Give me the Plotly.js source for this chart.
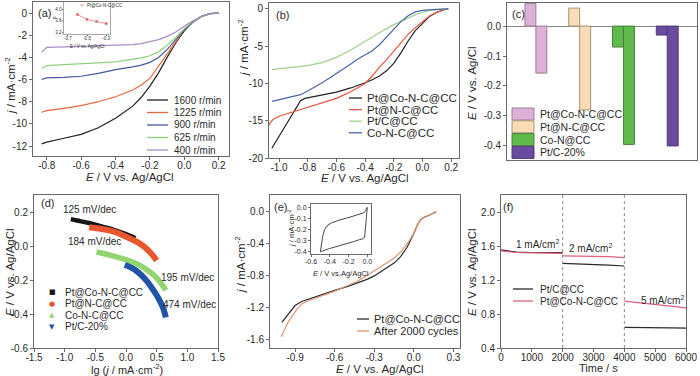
<!DOCTYPE html>
<html><head><meta charset="utf-8">
<script src="https://cdn.plot.ly/plotly-3.0.1.min.js"></script>
<style>html,body{margin:0;padding:0;background:#fff}#chart{width:700px;height:376px}</style>
</head><body><div id="chart"></div>
<script>
// ---------- DATA ----------
// (a) LSV at different rotation rates
const rpmLabels = ["1600 r/min","1225 r/min","900 r/min","625 r/min","400 r/min"];
const E_a = [-0.83,-0.8,-0.7,-0.6,-0.5,-0.4,-0.3,-0.25,-0.2,-0.15,-0.1,-0.05,0,0.05,0.1,0.15,0.2];
const j_1600 = [-11.8,-11.65,-11.3,-10.95,-10.35,-9.5,-8.4,-7.6,-6.6,-5.4,-4.0,-2.7,-1.6,-0.8,-0.3,-0.05,0];
const j_1225 = [-8.95,-8.8,-8.6,-8.35,-8.0,-7.55,-6.95,-6.5,-5.9,-4.8,-3.6,-2.5,-1.5,-0.8,-0.3,-0.05,0];
const j_900  = [-6.0,-5.85,-5.8,-5.7,-5.45,-5.1,-4.85,-4.7,-4.45,-4.0,-3.3,-2.4,-1.5,-0.8,-0.3,-0.05,0];
const j_625  = [-5.0,-4.75,-4.65,-4.6,-4.5,-4.4,-4.2,-4.05,-3.85,-3.5,-2.9,-2.2,-1.4,-0.75,-0.3,-0.05,0];
const j_400  = [-3.55,-3.1,-3.05,-3.0,-2.95,-2.9,-2.85,-2.75,-2.6,-2.4,-2.1,-1.7,-1.2,-0.7,-0.3,-0.05,0];
// (a) inset: electron transfer number
const E_ins = [-0.6,-0.5,-0.4,-0.3];
const n_ins = [3.82,3.65,3.58,3.51];
// (b) LSV of catalysts
const bNames = ["Pt@Co-N-C@CC","Pt@N-C@CC","Pt/C@CC","Co-N-C@CC"];
const E_b1 = [-1.05,-1.0,-0.95,-0.9,-0.87,-0.85,-0.82,-0.78,-0.7,-0.6,-0.5,-0.45,-0.4,-0.35,-0.3,-0.25,-0.2,-0.15,-0.1,-0.05,0,0.05,0.1,0.15,0.18];
const j_b1 = [-18.7,-17.1,-15.5,-13.9,-12.8,-12.3,-12.0,-11.85,-11.6,-11.15,-10.6,-10.3,-9.9,-9.5,-9.0,-8.3,-7.3,-5.9,-4.3,-2.9,-1.9,-1.0,-0.45,-0.1,0];
const E_b2 = [-1.08,-1.06,-1.04,-1.02,-1.0,-0.95,-0.9,-0.8,-0.7,-0.6,-0.5,-0.45,-0.4,-0.35,-0.3,-0.25,-0.2,-0.15,-0.1,-0.05,0,0.05,0.1,0.15,0.18];
const j_b2 = [-16.0,-15.2,-14.8,-14.55,-14.4,-14.1,-13.8,-13.3,-12.7,-12.0,-11.1,-10.6,-10.0,-9.0,-7.8,-6.8,-5.7,-4.5,-3.4,-2.5,-1.7,-0.95,-0.45,-0.1,0];
const E_b3 = [-1.05,-1.0,-0.9,-0.8,-0.7,-0.6,-0.5,-0.4,-0.3,-0.2,-0.1,-0.05,0,0.05,0.1,0.18];
const j_b3 = [-8.15,-8.05,-7.9,-7.6,-7.2,-6.5,-5.5,-4.3,-3.2,-2.1,-1.2,-0.8,-0.45,-0.2,-0.08,0];
const E_b4 = [-1.05,-1.0,-0.95,-0.9,-0.85,-0.8,-0.75,-0.7,-0.65,-0.6,-0.55,-0.5,-0.45,-0.4,-0.35,-0.3,-0.25,-0.2,-0.15,-0.1,-0.05,0,0.05,0.1,0.18];
const j_b4 = [-12.4,-12.2,-12.0,-11.8,-11.5,-11.0,-10.5,-9.9,-9.3,-8.7,-8.0,-7.4,-6.7,-6.2,-5.6,-4.8,-3.8,-2.7,-1.7,-0.9,-0.4,-0.2,-0.1,-0.05,0];
// (c) onset / half-wave potentials
const cNames = ["Pt@Co-N-C@CC","Pt@N-C@CC","Co-N@CC","Pt/C-20%"];
const onsetE = [0.075,0.06,-0.07,-0.03];
const halfE  = [-0.157,-0.28,-0.395,-0.40];
// (d) Tafel
const dNames = ["Pt@Co-N-C@CC","Pt@N-C@CC","Co-N-C@CC","Pt/C-20%"];
const tafelSlopes = ["125 mV/dec","184 mV/dec","195 mV/dec","474 mV/dec"];
const lg_d1 = [-0.9,-0.8,-0.6,-0.4,-0.2,0,0.1,0.15];
const E_d1  = [0.158,0.15,0.135,0.115,0.095,0.07,0.055,0.045];
const lg_d2 = [-0.6,-0.4,-0.2,0,0.2,0.3,0.4,0.5];
const E_d2  = [0.11,0.1,0.085,0.055,0.02,-0.005,-0.04,-0.085];
const lg_d3 = [-0.48,-0.3,-0.15,0,0.15,0.3,0.45,0.55,0.65];
const E_d3  = [-0.035,-0.05,-0.065,-0.08,-0.1,-0.13,-0.17,-0.21,-0.26];
const lg_d4 = [-0.02,0.1,0.2,0.3,0.4,0.5,0.6,0.65];
const E_d4  = [-0.11,-0.13,-0.155,-0.19,-0.235,-0.29,-0.36,-0.42];
// (e) stability
const eNames = ["Pt@Co-N-C@CC","After 2000 cycles"];
const E_e1 = [-1.0,-0.95,-0.9,-0.85,-0.8,-0.7,-0.6,-0.5,-0.43,-0.35,-0.3,-0.2,-0.15,-0.1,-0.05,0,0.025,0.05,0.075,0.12,0.17];
const j_e1 = [-1.38,-1.27,-1.17,-1.12,-1.09,-1.04,-0.98,-0.93,-0.89,-0.84,-0.80,-0.70,-0.64,-0.56,-0.44,-0.27,-0.17,-0.1,-0.07,-0.04,0.0];
const E_e2 = [-1.005,-0.95,-0.9,-0.85,-0.8,-0.7,-0.6,-0.5,-0.43,-0.35,-0.3,-0.2,-0.15,-0.1,-0.05,0,0.025,0.05,0.075,0.12,0.17];
const j_e2 = [-1.56,-1.37,-1.25,-1.15,-1.11,-1.05,-0.99,-0.92,-0.87,-0.79,-0.74,-0.64,-0.58,-0.5,-0.40,-0.27,-0.17,-0.1,-0.07,-0.04,0.0];
// (e) inset CV loop
const E_cv = [-0.5,-0.49,-0.475,-0.455,-0.42,-0.38,-0.3,-0.184,-0.1,-0.045,-0.02,0.0,-0.01,-0.02,-0.028,-0.05,-0.08,-0.15,-0.29,-0.4,-0.5];
const j_cv = [-0.40,-0.33,-0.26,-0.2,-0.16,-0.14,-0.115,-0.088,-0.07,-0.052,-0.035,0.0,-0.1,-0.2,-0.27,-0.285,-0.29,-0.31,-0.34,-0.37,-0.40];
// (f) galvanostatic discharge
const fNames = ["Pt/C@CC","Pt@Co-N-C@CC"];
const currentLabels = ["1 mA/cm<sup>2</sup>","2 mA/cm<sup>2</sup>","5 mA/cm<sup>2</sup>"];
const switchTimes = [2000,4000];
const t_f = [0,500,1000,1500,2000,null,2000,2500,3000,3500,4000,null,4000,4500,5000,5500,6000];
const E_fPtC = [1.56,1.535,1.53,1.53,1.53,null,1.40,1.395,1.39,1.38,1.37,null,0.645,0.64,0.64,0.637,0.635];
const E_fPt  = [1.55,1.53,1.525,1.525,1.52,null,1.49,1.49,1.485,1.48,1.47,null,0.955,0.935,0.915,0.895,0.875];

// ---------- LAYOUT HELPERS ----------
const W=700,H=376;
const FONT="Liberation Sans, Arial, sans-serif";
const TXT="#2a2a2a";
const fx=p=>p/W, fy=p=>1-p/H;
function base(extra){
  return Object.assign({showline:true,mirror:true,linecolor:'#6a6a6a',linewidth:1,ticks:'outside',ticklen:3,
    tickwidth:1,tickcolor:'#6a6a6a',showgrid:false,zeroline:false,fixedrange:true,
    tickfont:{size:10,color:TXT,family:FONT}},extra);
}
function xa(x0,x1,range,tv,tt,anchor,extra){return base(Object.assign({domain:[fx(x0),fx(x1)],range:range,tickvals:tv,ticktext:tt,anchor:anchor,tickmode:'array',ticklabelstandoff:-3},extra||{}));}
function ya(y0,y1,range,tv,tt,anchor,extra){return base(Object.assign({domain:[fy(y1),fy(y0)],range:range,tickvals:tv,ticktext:tt,anchor:anchor,tickmode:'array'},extra||{}));}
const ann=[]; const shapes=[];
function T(x,y,text,o){ann.push(Object.assign({x:fx(x),y:fy(y),xref:'paper',yref:'paper',text:text,showarrow:false,
  xanchor:'center',yanchor:'middle',font:{size:10,color:TXT,family:FONT}},o||{}));}
function F(s){return {size:s,color:TXT,family:FONT};}
function legLine(x0,x1,y,color,w){shapes.push({type:'line',xref:'paper',yref:'paper',x0:fx(x0),x1:fx(x1),y0:fy(y),y1:fy(y),line:{color:color,width:w||1.3}});}
function legRect(x0,x1,y0,y1,color,lc){shapes.push({type:'rect',xref:'paper',yref:'paper',x0:fx(x0),x1:fx(x1),y0:fy(y1),y1:fy(y0),fillcolor:color,line:{color:lc||'#777',width:1}});}
const fmt=(arr,d)=>arr.map(v=>v.toFixed(d));

// ---------- TRACES ----------
const traces=[];
const aCols=['#222222','#e8693e','#3f5a9c','#8fd07c','#a98bc8'];
[j_1600,j_1225,j_900,j_625,j_400].forEach((j,i)=>traces.push({x:E_a,y:j,xaxis:'x',yaxis:'y',mode:'lines',line:{color:aCols[i],width:1.2},name:rpmLabels[i],showlegend:false}));
traces.push({x:E_ins,y:n_ins,xaxis:'x2',yaxis:'y2',mode:'lines+markers',line:{color:'#e06a6a',width:0.7},marker:{symbol:'square',size:2.5,color:'#e06a6a'},showlegend:false});
const bCols=['#222222','#e8553e','#9fd28c','#4a64aa'];
[[E_b1,j_b1],[E_b2,j_b2],[E_b3,j_b3],[E_b4,j_b4]].forEach((d,i)=>traces.push({x:d[0],y:d[1],xaxis:'x3',yaxis:'y3',mode:'lines',line:{color:bCols[i],width:1.2},name:bNames[i],showlegend:false}));
const cCols=['#ddb0d8','#fbdcb6','#5fb94b','#6b4b9f'];
const cLine=['#9a7f98','#a89472','#4b7f3e','#4f3a75'];
cNames.forEach((nm,i)=>traces.push({type:'bar',x:[i+1,i+1],y:[onsetE[i],halfE[i]],offset:[-0.25,0],width:[0.25,0.25],
  xaxis:'x4',yaxis:'y4',marker:{color:cCols[i],line:{color:cLine[i],width:1}},name:nm,showlegend:false}));
const dCols=['#151515','#e8552e','#90d56f','#2054a6'];
const dW=[4.5,6,5.5,6];
[[lg_d1,E_d1],[lg_d2,E_d2],[lg_d3,E_d3],[lg_d4,E_d4]].forEach((d,i)=>traces.push({x:d[0],y:d[1],xaxis:'x5',yaxis:'y5',mode:'lines',line:{color:dCols[i],width:dW[i],shape:'spline'},name:dNames[i],showlegend:false}));
const eCols=['#2a2a2a','#de946f'];
traces.push({x:E_e1,y:j_e1,xaxis:'x6',yaxis:'y6',mode:'lines',line:{color:eCols[0],width:1.2},showlegend:false});
traces.push({x:E_e2,y:j_e2,xaxis:'x6',yaxis:'y6',mode:'lines',line:{color:eCols[1],width:1.2},showlegend:false});
traces.push({x:E_cv,y:j_cv,xaxis:'x7',yaxis:'y7',mode:'lines',line:{color:'#333',width:0.9},showlegend:false});
const fCols=['#2a2a2a','#e0607c'];
traces.push({x:t_f,y:E_fPtC,xaxis:'x8',yaxis:'y8',mode:'lines',line:{color:fCols[0],width:1.2},connectgaps:false,showlegend:false});
traces.push({x:t_f,y:E_fPt,xaxis:'x8',yaxis:'y8',mode:'lines',line:{color:fCols[1],width:1.2},connectgaps:false,showlegend:false});

// ---------- AXES ----------
const tA_x=[-0.8,-0.6,-0.4,-0.2,0,0.2], tA_y=[0,-2,-4,-6,-8,-10,-12];
const tB_x=[-1.0,-0.8,-0.6,-0.4,-0.2,0,0.2], tB_y=[0,-5,-10,-15,-20];
const tC_y=[0,-0.1,-0.2,-0.3,-0.4];
const tD_x=[-1.5,-1,-0.5,0,0.5,1,1.5], tD_y=[0.2,0,-0.2,-0.4,-0.6];
const tE_x=[-0.9,-0.6,-0.3,0,0.3], tE_y=[0,-0.4,-0.8,-1.2,-1.6];
const tEi_x=[-0.6,-0.4,-0.2,0], tEi_y=[0,-0.1,-0.2,-0.3,-0.4];
const tF_x=[0,1000,2000,3000,4000,5000,6000], tF_y=[0.4,0.8,1.2,1.6,2.0];
const tAi_x=[-0.7,-0.5,-0.3], tAi_y=[3.2,3.6,4.0];
const small={tickfont:F(4.5),ticklen:1,linewidth:0.6,ticklabelstandoff:-1};
const inset={tickfont:F(7),ticklen:2};
const layout={
  width:W,height:H,margin:{l:0,r:0,t:0,b:0},paper_bgcolor:'#fff',plot_bgcolor:'rgba(0,0,0,0)',showlegend:false,barmode:'overlay',
  font:{family:FONT,color:TXT},
  xaxis: xa(33,229,[-0.88,0.26],tA_x,fmt(tA_x,1),'y'),
  yaxis: ya(2,156,[-12.9,1.0],tA_y,fmt(tA_y,0),'x'),
  xaxis2: xa(64,110,[-0.74,-0.26],tAi_x,fmt(tAi_x,1),'y2',small),
  yaxis2: ya(2,34,[3.15,4.25],tAi_y,fmt(tAi_y,1),'x2',Object.assign({},small,{ticklabelstandoff:0})),
  xaxis3: xa(269,459,[-1.07,0.255],tB_x,fmt(tB_x,1),'y3'),
  yaxis3: ya(3,158,[-20,0.8],tB_y,fmt(tB_y,0),'x3'),
  xaxis4: xa(507,697,[0.34,4.68],[],[],'y4',{ticks:''}),
  yaxis4: ya(3,160,[-0.447,0.077],tC_y,fmt(tC_y,1),'x4',{zeroline:true,zerolinecolor:'#888',zerolinewidth:1}),
  xaxis5: xa(34,218,[-1.5,1.5],tD_x,fmt(tD_x,1),'y5'),
  yaxis5: ya(195,348,[-0.6,0.3],tD_y,fmt(tD_y,1),'x5'),
  xaxis6: xa(270,460,[-1.09,0.35],tE_x,fmt(tE_x,1),'y6'),
  yaxis6: ya(195,348,[-1.7,0.21],tE_y,fmt(tE_y,1),'x6'),
  xaxis7: xa(311,371,[-0.6,0.04],tEi_x,fmt(tEi_x,1),'y7',Object.assign({ticklabelstandoff:-1},inset)),
  yaxis7: ya(204,254,[-0.42,0.03],tEi_y,fmt(tEi_y,1),'x7',inset),
  xaxis8: xa(501,686,[0,6000],tF_x,tF_x.map(String),'y8'),
  yaxis8: ya(195,348,[0.4,2.21],tF_y,fmt(tF_y,1),'x8'),
  annotations:ann, shapes:shapes
};
// dotted current-switch lines in (f)
switchTimes.forEach(t=>shapes.push({type:'line',xref:'x8',yref:'y8 domain',x0:t,x1:t,y0:0,y1:1,line:{color:'#888',width:1,dash:'dot'}}));

// panel labels
T(45,13,'(a)',{font:F(11)});
T(282,15,'(b)',{font:F(11)});
T(518,14,'(c)',{font:F(11)});
T(47,203,'(d)',{font:F(11)});
T(280,207,'(e)',{font:F(11)});
T(508,207,'(f)',{font:F(11)});
// axis titles
T(130,177,'<i>E</i> / V vs. Ag/AgCl',{font:F(11.5)});
T(10,86,'<i>j</i> / mA·cm<sup>-2</sup>',{font:F(11.5),textangle:-90});
T(365,178,'<i>E</i> / V vs. Ag/AgCl',{font:F(11.5)});
T(243,48,'<i>j</i> / mA·cm<sup>-2</sup>',{font:F(11.5),textangle:-90});
T(472,83,'<i>E</i> / V vs. Ag/Cl',{font:F(11.5),textangle:-90});
T(127,369,'lg (<i>j</i> / mA·cm<sup>-2</sup>)',{font:F(11)});
T(10,272,'<i>E</i> / V vs. Ag/AgCl',{font:F(11.5),textangle:-90});
T(380,369,'<i>E</i> / V vs. Ag/AgCl',{font:F(11.5)});
T(240,265,'<i>j</i> / mA·cm<sup>-2</sup>',{font:F(11.5),textangle:-90});
T(598,368,'Time / s',{font:F(11)});
T(472,272,'<i>E</i> / V vs. Ag/AgCl',{font:F(11.5),textangle:-90});
// inset titles
T(87,46,'E / V vs. Ag/AgCl',{font:F(4.5)});
T(55,18,'n',{font:F(4.5),textangle:-90});
legLine(80,84,5,'#e06a6a',0.7);
T(85,5,'Pt@Co-N-C@CC',{xanchor:'left',font:F(4.5)});
T(341,273,'<i>E</i> / V vs.Ag/AgCl',{font:F(7.5)});
T(291,229,'<i>j</i> / mA·cm<sup>-2</sup>',{font:F(7.5),textangle:-90});
// legend (a)
rpmLabels.forEach((l,i)=>{const y=100+i*12.5; legLine(147,168,y,aCols[i]); T(172,y,l,{xanchor:'left'});});
// legend (b)
bNames.forEach((l,i)=>{const y=98+i*11.6; legLine(349,362,y,bCols[i]); T(365,y,l,{xanchor:'left',font:F(11.5)});});
// legend (c)
cNames.forEach((l,i)=>{const y=114+i*12.8; legRect(512,534,y-6,y+6,cCols[i],cLine[i]); T(538,y,l,{xanchor:'left',font:F(10.5)});});
// legend (d)
const dSym=['■','●','▲','▼'];
dNames.forEach((l,i)=>{const y=292+i*11.6; T(52,y,dSym[i],{font:{size:7,color:dCols[i],family:'DejaVu Sans'}}); T(63,y,l,{xanchor:'left'});});
const dPos=[[90,210],[95,242],[187,277],[190,304]];
tafelSlopes.forEach((s,i)=>T(dPos[i][0],dPos[i][1],s));
// legend (e)
eNames.forEach((l,i)=>{const y=319+i*12; legLine(357,369,y,eCols[i]); T(372,y,l,{xanchor:'left',font:F(11)});});
// legend (f)
fNames.forEach((l,i)=>{const y=289+i*12; legLine(513,533,y,fCols[i]); T(538,y,l,{xanchor:'left'});});
const fPos=[[537,244],[590,248],[662,300]];
currentLabels.forEach((s,i)=>T(fPos[i][0],fPos[i][1],s));

Plotly.newPlot('chart',traces,layout,{displayModeBar:false,staticPlot:true}).then(gd=>{
  gd.querySelectorAll('text').forEach(t=>{ if(!t.textContent.trim()) t.remove(); });
});
</script></body></html>
